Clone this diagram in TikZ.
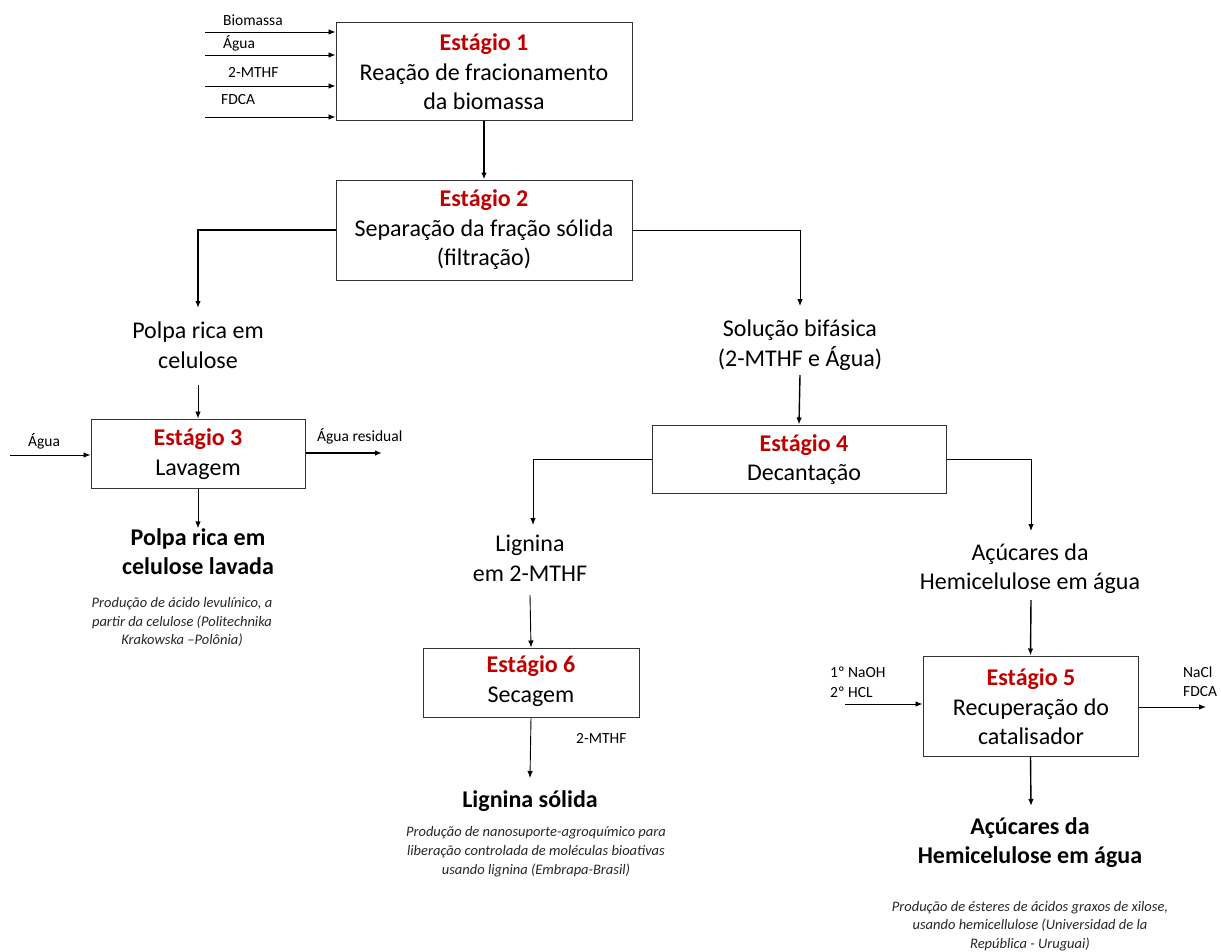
\documentclass[tikz,border=0pt]{standalone}
\usepackage{fontspec}
\setmainfont{Carlito}
\usetikzlibrary{arrows.meta}
\definecolor{stagered}{RGB}{192,0,0}
\tikzset{
  x=1pt,y=-1pt,
  stagebox/.style={draw=black!80,line width=1pt,inner sep=0pt},
  maintext/.style={align=center,font=\fontsize{24}{29.5}\selectfont,inner sep=0pt},
  boldtext/.style={align=center,font=\fontsize{24}{29}\selectfont\bfseries,inner sep=0pt},
  smalltext/.style={font=\fontsize{15.5}{20}\selectfont,inner sep=0pt,anchor=west},
  notetext/.style={align=center,font=\fontsize{14.5}{18.7}\selectfont\itshape,inner sep=0pt,text=black!85},
  flow/.style={-{Latex[length=7pt,width=5.5pt]},line width=1.4pt},
  thinflow/.style={-{Latex[length=7pt,width=5.5pt]},line width=0.9pt},
}
\newcommand{\stg}[1]{{\bfseries\color{stagered}Estágio #1}}
\begin{document}
\begin{tikzpicture}
\useasboundingbox (0,0) rectangle (1221,951);
% Stage 1
\node[stagebox,minimum width=296pt,minimum height=98pt] (b1) at (484,71) {};
\node[maintext] (t1) at (484,72) {\stg{1}\\Reação de fracionamento\\da biomassa};
\coordinate (i1) at (205,32);
\coordinate (i2) at (205,55);
\coordinate (i3) at (205,86);
\coordinate (i4) at (205,117);
\draw[thinflow] (i1) -- (i1 -| b1.west);
\draw[thinflow] (i2) -- (i2 -| b1.west);
\draw[thinflow] (i3) -- (i3 -| b1.west);
\draw[thinflow] (i4) -- (i4 -| b1.west);
\node[smalltext] (l1) at (223,20) {Biomassa};
\node[smalltext] (l2) at (223,43) {Água};
\node[smalltext] (l3) at (228,72) {2-MTHF};
\node[smalltext] (l4) at (221,100) {FDCA};
% Stage 2
\node[stagebox,minimum width=296pt,minimum height=100pt] (b2) at (484,230) {};
\node[maintext] (t2) at (484,230) {\stg{2}\\Separação da fração sólida\\(filtração)};
\draw[flow] (b1.south) -- (b2.north);
% left branch
\node[maintext] (polpa) at (198,345) {Polpa rica em\\celulose};
\coordinate (c2l) at (198,230);
\coordinate (c2le) at (198,308);
\draw[flow] (b2.west |- c2l) -- (c2l) -- (c2le);
% right branch
\node[maintext] (sol) at (800,345) {Solução bifásica\\(2-MTHF e Água)};
\coordinate (c2r) at (800,230);
\coordinate (c2re) at (800,306);
\draw[thinflow] (b2.east |- c2r) -- (c2r) -- (c2re);
% Stage 3
\node[stagebox,minimum width=214pt,minimum height=69pt] (b3) at (198,453.5) {};
\node[maintext] (t3) at (198,454) {\stg{3}\\Lavagem};
\coordinate (p3top) at (198,385);
\draw[thinflow] (p3top) -- (b3.north);
\coordinate (a3in) at (10,455);
\draw[thinflow] (a3in) -- (a3in -| b3.west);
\node[smalltext] (la3) at (28,441) {Água};
\coordinate (a3out) at (382,453);
\draw[flow] (a3out -| b3.east) -- (a3out);
\node[smalltext] (lr3) at (317,436) {Água residual};
\node[boldtext] (pl) at (198,551.5) {Polpa rica em\\celulose lavada};
\draw[thinflow] (b3.south) -- (pl.north);
\node[notetext] (n3) at (182,622) {Produção de ácido levulínico, a\\partir da celulose (Politechnika\\Krakowska –Polônia)};
% Stage 4
\node[stagebox,minimum width=294pt,minimum height=68pt] (b4) at (799,459) {};
\node[maintext] (t4) at (804,459.5) {\stg{4}\\Decantação};
\coordinate (s4top) at (800,375);
\draw[flow] (s4top) -- (b4.north);
\node[maintext] (lig) at (530,558.5) {Lignina\\em 2-MTHF};
\coordinate (c4l) at (533,459);
\coordinate (c4le) at (533,525);
\draw[thinflow] (b4.west |- c4l) -- (c4l) -- (c4le);
\node[maintext] (acu) at (1030,568.5) {Açúcares da\\Hemicelulose em água};
\coordinate (c4r) at (1031,459);
\coordinate (c4re) at (1031,531);
\draw[thinflow] (b4.east |- c4r) -- (c4r) -- (c4re);
% Stage 6
\node[stagebox,minimum width=216pt,minimum height=69pt] (b6) at (531,682.5) {};
\node[maintext] (t6) at (531,681) {\stg{6}\\Secagem};
\coordinate (l6top) at (530,595);
\draw[thinflow] (l6top) -- (b6.north);
\node[boldtext] (ls) at (530,801) {Lignina sólida};
\coordinate (l6bot) at (530,778);
\draw[thinflow] (b6.south) -- (l6bot);
\node[smalltext] (m6) at (576,738) {2-MTHF};
\node[notetext] (n6) at (536,851.5) {Produção de nanosuporte-agroquímico para\\liberação controlada de moléculas bioativas\\usando lignina (Embrapa-Brasil)};
% Stage 5
\node[stagebox,minimum width=215pt,minimum height=100pt] (b5) at (1030.5,706) {};
\node[maintext] (t5) at (1031,707) {\stg{5}\\Recuperação do\\catalisador};
\coordinate (a5top) at (1031,600);
\draw[flow] (a5top) -- (b5.north);
\coordinate (a5in) at (845,704);
\draw[thinflow] (a5in) -- (a5in -| b5.west);
\node[smalltext] (n5a) at (830,672) {1º NaOH};
\node[smalltext] (n5b) at (830,692) {2º HCL};
\coordinate (a5out) at (1206,707);
\draw[thinflow] (a5out -| b5.east) -- (a5out);
\node[smalltext] (o5a) at (1183,672) {NaCl};
\node[smalltext] (o5b) at (1183,692) {FDCA};
\coordinate (a5bot) at (1031,806);
\draw[flow] (b5.south) -- (a5bot);
\node[boldtext] (ah) at (1030,842.5) {Açúcares da\\Hemicelulose em água};
\node[notetext] (n5) at (1030,926) {Produção de ésteres de ácidos graxos de xilose,\\usando hemicellulose (Universidad de la\\República - Uruguai)};
\end{tikzpicture}
\end{document}
